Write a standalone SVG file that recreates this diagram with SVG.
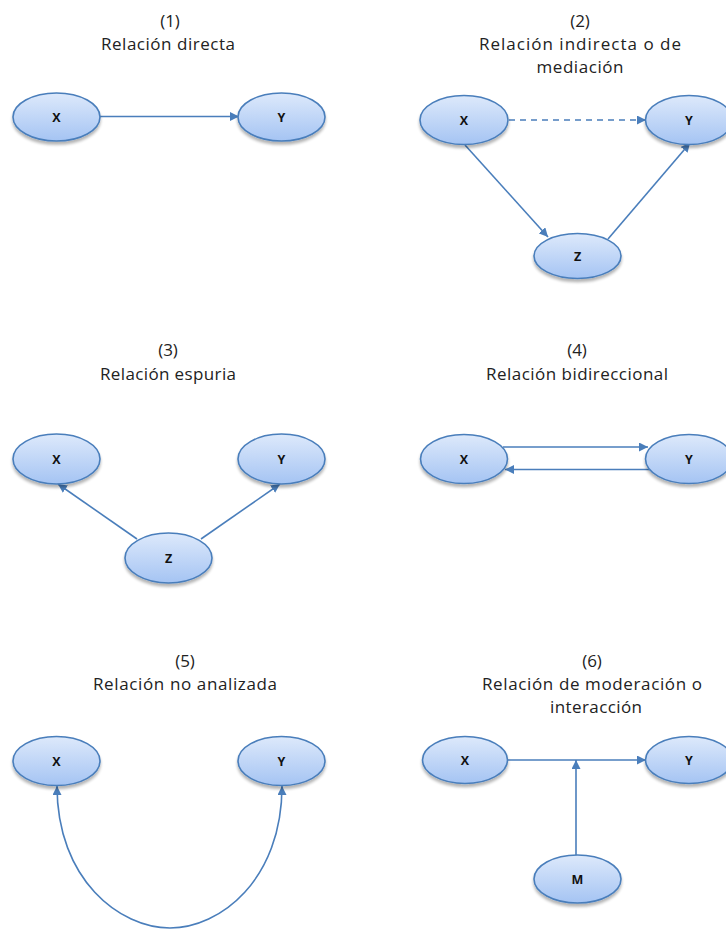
<svg xmlns="http://www.w3.org/2000/svg" width="726" height="929" viewBox="0 0 726 929">
  <defs>
    <linearGradient id="nodeFill" x1="0" y1="0" x2="0" y2="1">
      <stop offset="0" stop-color="#dde9fb"/>
      <stop offset="1" stop-color="#a5c4f3"/>
    </linearGradient>
    <filter id="shadow" x="-20%" y="-20%" width="140%" height="160%">
      <feGaussianBlur in="SourceAlpha" stdDeviation="1.5"/>
      <feOffset dx="0" dy="2.5" result="b"/>
      <feComponentTransfer><feFuncA type="linear" slope="0.3"/></feComponentTransfer>
      <feMerge><feMergeNode/><feMergeNode in="SourceGraphic"/></feMerge>
    </filter>
    <marker id="arrow" viewBox="0 0 10 10" refX="10" refY="5" markerWidth="9" markerHeight="9" markerUnits="userSpaceOnUse" orient="auto">
      <path d="M0,0 L10,5 L0,10 z" fill="#4a7ebb"/>
    </marker>
    <marker id="arrowBig" viewBox="0 0 10 10" refX="10" refY="5" markerWidth="11" markerHeight="11" markerUnits="userSpaceOnUse" orient="auto">
      <path d="M0,0 L10,5 L0,10 z" fill="#4a7ebb"/>
    </marker>
  </defs>
  <style>
    .title { font-family: "Open Sans", "Liberation Sans", sans-serif; font-size: 17px; fill: #222; text-anchor: middle; }
    .node ellipse { fill: url(#nodeFill); stroke: #4a7ebb; stroke-width: 1.6; filter: url(#shadow); }
    .node text { font-family: "Open Sans", "Liberation Sans", sans-serif; font-size: 12.5px; font-weight: bold; fill: #111; text-anchor: middle; }
    .edge { fill: none; stroke: #4a7ebb; stroke-width: 1.6; marker-end: url(#arrow); }
    .dashed { stroke-dasharray: 6 5; }
  </style>

  <!-- panel titles -->
  <g id="titles">
    <text class="title" x="170" y="27">(1)</text>
    <text class="title" x="168" y="50" textLength="134" lengthAdjust="spacing">Relación directa</text>
    <text class="title" x="580" y="27">(2)</text>
    <text class="title" x="580" y="50" textLength="202" lengthAdjust="spacing">Relación indirecta o de</text>
    <text class="title" x="580" y="73" textLength="87" lengthAdjust="spacing">mediación</text>
    <text class="title" x="168" y="356">(3)</text>
    <text class="title" x="168" y="380" textLength="136" lengthAdjust="spacing">Relación espuria</text>
    <text class="title" x="577" y="356">(4)</text>
    <text class="title" x="577" y="380" textLength="182" lengthAdjust="spacing">Relación bidireccional</text>
    <text class="title" x="185" y="667">(5)</text>
    <text class="title" x="185" y="690" textLength="184" lengthAdjust="spacing">Relación no analizada</text>
    <text class="title" x="592" y="667">(6)</text>
    <text class="title" x="592" y="690" textLength="220" lengthAdjust="spacing">Relación de moderación o</text>
    <text class="title" x="596" y="713" textLength="92" lengthAdjust="spacing">interacción</text>
  </g>

  <!-- connectors -->
  <g id="connectors">
    <!-- (1) -->
    <line class="edge" x1="100" y1="116.5" x2="239" y2="116.5"/>
    <!-- (2) -->
    <line class="edge dashed" x1="509" y1="120" x2="646" y2="120"/>
    <line class="edge" x1="465" y1="145" x2="548" y2="237"/>
    <line class="edge" x1="608" y1="239" x2="690" y2="143"/>
    <!-- (3) -->
    <line class="edge" x1="137" y1="539" x2="58" y2="484"/>
    <line class="edge" x1="201" y1="539" x2="280" y2="484"/>
    <!-- (4) -->
    <line class="edge" x1="503" y1="447" x2="648" y2="447"/>
    <line class="edge" x1="650" y1="469.5" x2="505" y2="469.5"/>
    <!-- (5) -->
    <path class="edge" d="M170,928 C120,928 57,880 57,786"/>
    <path class="edge" d="M170,928 C220,928 282,880 282,786"/>
    <!-- (6) -->
    <line class="edge" x1="507" y1="760" x2="646" y2="760"/>
    <line class="edge" x1="576" y1="855" x2="576" y2="760" marker-end="url(#arrowBig)"/>
  </g>

  <!-- (1) -->
  <g id="n1x" class="node"><ellipse cx="56.5" cy="117" rx="43.5" ry="24"/><text x="56.5" y="121.5">X</text></g>
  <g id="n1y" class="node"><ellipse cx="281.5" cy="117" rx="43.5" ry="24"/><text x="281.5" y="121.5">Y</text></g>

  <!-- (2) -->
  <g id="n2x" class="node"><ellipse cx="464" cy="120" rx="44" ry="24.5"/><text x="464" y="124.5">X</text></g>
  <g id="n2y" class="node"><ellipse cx="689" cy="120" rx="43.5" ry="24.5"/><text x="689" y="124.5">Y</text></g>
  <g id="n2z" class="node"><ellipse cx="577.5" cy="256" rx="43.5" ry="22.5"/><text x="577.5" y="260.5">Z</text></g>

  <!-- (3) -->
  <g id="n3x" class="node"><ellipse cx="56.5" cy="459" rx="43.5" ry="25"/><text x="56.5" y="463.5">X</text></g>
  <g id="n3y" class="node"><ellipse cx="281.5" cy="459" rx="43.5" ry="25"/><text x="281.5" y="463.5">Y</text></g>
  <g id="n3z" class="node"><ellipse cx="168.5" cy="558" rx="43.5" ry="25"/><text x="168.5" y="562.5">Z</text></g>

  <!-- (4) -->
  <g id="n4x" class="node"><ellipse cx="464" cy="459" rx="43.5" ry="24.5"/><text x="464" y="463.5">X</text></g>
  <g id="n4y" class="node"><ellipse cx="689" cy="459" rx="43.5" ry="24.5"/><text x="689" y="463.5">Y</text></g>

  <!-- (5) -->
  <g id="n5x" class="node"><ellipse cx="56.5" cy="761" rx="43.5" ry="24.5"/><text x="56.5" y="765.5">X</text></g>
  <g id="n5y" class="node"><ellipse cx="281.5" cy="761" rx="43.5" ry="24.5"/><text x="281.5" y="765.5">Y</text></g>

  <!-- (6) -->
  <g id="n6x" class="node"><ellipse cx="465" cy="760" rx="42.5" ry="23.5"/><text x="465" y="764.5">X</text></g>
  <g id="n6y" class="node"><ellipse cx="689" cy="760" rx="43.5" ry="23.5"/><text x="689" y="764.5">Y</text></g>
  <g id="n6m" class="node"><ellipse cx="577.5" cy="879" rx="43.5" ry="24"/><text x="577.5" y="883.5">M</text></g>
</svg>
